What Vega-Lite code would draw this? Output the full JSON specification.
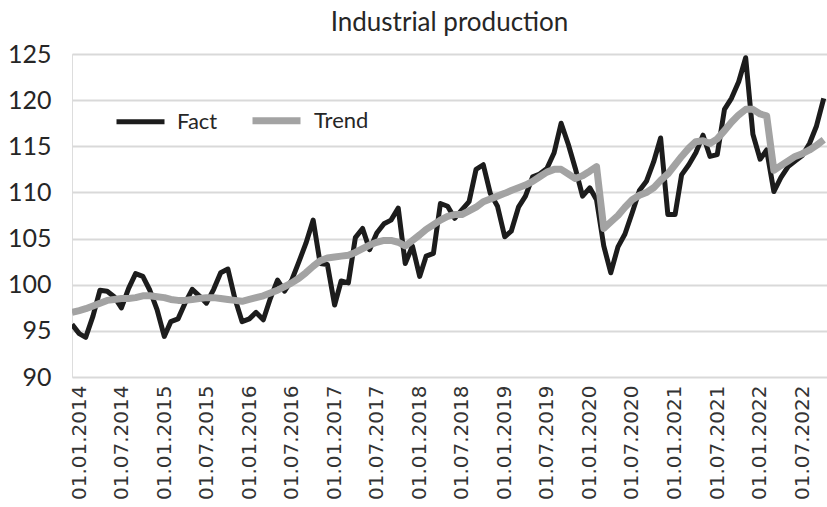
{
  "$schema": "https://vega.github.io/schema/vega-lite/v6.json",
  "autosize": {"type": "none"},
  "width": 755,
  "height": 323,
  "padding": {"left": 72, "top": 54, "right": 0, "bottom": 130},
  "background": "white",
  "title": {"text": "Industrial production", "font": "Lato", "fontSize": 26, "fontWeight": "normal", "color": "#262626", "anchor": "middle", "offset": 6},
  "data": {"values": [
    {"date": "2014-01-01", "Fact": 95.7, "Trend": 97.0},
    {"date": "2014-02-01", "Fact": 94.7, "Trend": 97.2},
    {"date": "2014-03-01", "Fact": 94.3, "Trend": 97.4},
    {"date": "2014-04-01", "Fact": 96.6, "Trend": 97.7},
    {"date": "2014-05-01", "Fact": 99.4, "Trend": 98.0},
    {"date": "2014-06-01", "Fact": 99.3, "Trend": 98.3},
    {"date": "2014-07-01", "Fact": 98.7, "Trend": 98.4},
    {"date": "2014-08-01", "Fact": 97.5, "Trend": 98.5},
    {"date": "2014-09-01", "Fact": 99.6, "Trend": 98.5},
    {"date": "2014-10-01", "Fact": 101.2, "Trend": 98.6},
    {"date": "2014-11-01", "Fact": 100.9, "Trend": 98.8},
    {"date": "2014-12-01", "Fact": 99.4, "Trend": 98.8},
    {"date": "2015-01-01", "Fact": 97.3, "Trend": 98.7},
    {"date": "2015-02-01", "Fact": 94.4, "Trend": 98.6},
    {"date": "2015-03-01", "Fact": 96.0, "Trend": 98.4},
    {"date": "2015-04-01", "Fact": 96.3, "Trend": 98.3},
    {"date": "2015-05-01", "Fact": 98.0, "Trend": 98.3},
    {"date": "2015-06-01", "Fact": 99.5, "Trend": 98.4},
    {"date": "2015-07-01", "Fact": 98.8, "Trend": 98.5},
    {"date": "2015-08-01", "Fact": 98.0, "Trend": 98.6},
    {"date": "2015-09-01", "Fact": 99.5, "Trend": 98.6},
    {"date": "2015-10-01", "Fact": 101.3, "Trend": 98.5},
    {"date": "2015-11-01", "Fact": 101.7, "Trend": 98.4},
    {"date": "2015-12-01", "Fact": 98.5, "Trend": 98.3},
    {"date": "2016-01-01", "Fact": 96.0, "Trend": 98.2},
    {"date": "2016-02-01", "Fact": 96.3, "Trend": 98.4},
    {"date": "2016-03-01", "Fact": 97.0, "Trend": 98.6},
    {"date": "2016-04-01", "Fact": 96.2, "Trend": 98.8},
    {"date": "2016-05-01", "Fact": 98.5, "Trend": 99.1},
    {"date": "2016-06-01", "Fact": 100.5, "Trend": 99.4},
    {"date": "2016-07-01", "Fact": 99.3, "Trend": 99.8},
    {"date": "2016-08-01", "Fact": 100.5, "Trend": 100.2},
    {"date": "2016-09-01", "Fact": 102.5, "Trend": 100.7},
    {"date": "2016-10-01", "Fact": 104.5, "Trend": 101.3},
    {"date": "2016-11-01", "Fact": 107.0, "Trend": 102.0},
    {"date": "2016-12-01", "Fact": 102.3, "Trend": 102.6},
    {"date": "2017-01-01", "Fact": 102.2, "Trend": 102.9},
    {"date": "2017-02-01", "Fact": 97.8, "Trend": 103.0},
    {"date": "2017-03-01", "Fact": 100.4, "Trend": 103.1},
    {"date": "2017-04-01", "Fact": 100.2, "Trend": 103.2},
    {"date": "2017-05-01", "Fact": 105.1, "Trend": 103.5},
    {"date": "2017-06-01", "Fact": 106.1, "Trend": 103.9},
    {"date": "2017-07-01", "Fact": 103.8, "Trend": 104.3},
    {"date": "2017-08-01", "Fact": 105.6, "Trend": 104.6},
    {"date": "2017-09-01", "Fact": 106.6, "Trend": 104.8},
    {"date": "2017-10-01", "Fact": 107.0, "Trend": 104.8},
    {"date": "2017-11-01", "Fact": 108.3, "Trend": 104.6},
    {"date": "2017-12-01", "Fact": 102.3, "Trend": 104.2},
    {"date": "2018-01-01", "Fact": 104.2, "Trend": 104.8},
    {"date": "2018-02-01", "Fact": 100.9, "Trend": 105.4},
    {"date": "2018-03-01", "Fact": 103.1, "Trend": 106.0},
    {"date": "2018-04-01", "Fact": 103.4, "Trend": 106.5},
    {"date": "2018-05-01", "Fact": 108.8, "Trend": 107.0},
    {"date": "2018-06-01", "Fact": 108.5, "Trend": 107.4},
    {"date": "2018-07-01", "Fact": 107.2, "Trend": 107.6},
    {"date": "2018-08-01", "Fact": 108.1, "Trend": 107.6},
    {"date": "2018-09-01", "Fact": 109.0, "Trend": 108.0},
    {"date": "2018-10-01", "Fact": 112.5, "Trend": 108.4},
    {"date": "2018-11-01", "Fact": 113.0, "Trend": 109.0},
    {"date": "2018-12-01", "Fact": 109.9, "Trend": 109.3},
    {"date": "2019-01-01", "Fact": 108.5, "Trend": 109.6},
    {"date": "2019-02-01", "Fact": 105.2, "Trend": 109.9},
    {"date": "2019-03-01", "Fact": 105.8, "Trend": 110.2},
    {"date": "2019-04-01", "Fact": 108.4, "Trend": 110.5},
    {"date": "2019-05-01", "Fact": 109.6, "Trend": 110.8},
    {"date": "2019-06-01", "Fact": 111.7, "Trend": 111.2},
    {"date": "2019-07-01", "Fact": 112.0, "Trend": 111.7},
    {"date": "2019-08-01", "Fact": 112.6, "Trend": 112.2},
    {"date": "2019-09-01", "Fact": 114.3, "Trend": 112.5},
    {"date": "2019-10-01", "Fact": 117.5, "Trend": 112.5},
    {"date": "2019-11-01", "Fact": 115.2, "Trend": 112.0},
    {"date": "2019-12-01", "Fact": 112.6, "Trend": 111.5},
    {"date": "2020-01-01", "Fact": 109.6, "Trend": 111.8},
    {"date": "2020-02-01", "Fact": 110.5, "Trend": 112.3},
    {"date": "2020-03-01", "Fact": 109.2, "Trend": 112.8},
    {"date": "2020-04-01", "Fact": 104.2, "Trend": 106.1},
    {"date": "2020-05-01", "Fact": 101.3, "Trend": 106.8},
    {"date": "2020-06-01", "Fact": 104.1, "Trend": 107.5},
    {"date": "2020-07-01", "Fact": 105.5, "Trend": 108.4},
    {"date": "2020-08-01", "Fact": 107.8, "Trend": 109.2},
    {"date": "2020-09-01", "Fact": 110.2, "Trend": 109.7},
    {"date": "2020-10-01", "Fact": 111.2, "Trend": 110.0},
    {"date": "2020-11-01", "Fact": 113.3, "Trend": 110.5},
    {"date": "2020-12-01", "Fact": 115.9, "Trend": 111.3},
    {"date": "2021-01-01", "Fact": 107.6, "Trend": 112.0},
    {"date": "2021-02-01", "Fact": 107.6, "Trend": 113.0},
    {"date": "2021-03-01", "Fact": 111.9, "Trend": 113.9},
    {"date": "2021-04-01", "Fact": 113.0, "Trend": 114.8},
    {"date": "2021-05-01", "Fact": 114.3, "Trend": 115.5},
    {"date": "2021-06-01", "Fact": 116.2, "Trend": 115.6},
    {"date": "2021-07-01", "Fact": 113.9, "Trend": 115.3},
    {"date": "2021-08-01", "Fact": 114.1, "Trend": 115.8},
    {"date": "2021-09-01", "Fact": 119.0, "Trend": 116.7},
    {"date": "2021-10-01", "Fact": 120.2, "Trend": 117.6},
    {"date": "2021-11-01", "Fact": 122.0, "Trend": 118.4},
    {"date": "2021-12-01", "Fact": 124.6, "Trend": 119.0},
    {"date": "2022-01-01", "Fact": 116.3, "Trend": 119.0},
    {"date": "2022-02-01", "Fact": 113.6, "Trend": 118.5},
    {"date": "2022-03-01", "Fact": 114.6, "Trend": 118.3},
    {"date": "2022-04-01", "Fact": 110.1, "Trend": 112.4},
    {"date": "2022-05-01", "Fact": 111.6, "Trend": 112.9},
    {"date": "2022-06-01", "Fact": 112.8, "Trend": 113.4},
    {"date": "2022-07-01", "Fact": 113.4, "Trend": 113.9},
    {"date": "2022-08-01", "Fact": 114.0, "Trend": 114.2},
    {"date": "2022-09-01", "Fact": 115.3, "Trend": 114.6},
    {"date": "2022-10-01", "Fact": 117.2, "Trend": 115.1},
    {"date": "2022-11-01", "Fact": 120.2, "Trend": 115.7}
  ]},
  "transform": [{"fold": ["Fact", "Trend"], "as": ["series", "value"]}],
  "mark": {"type": "line", "strokeJoin": "round", "strokeCap": "butt", "clip": true},
  "encoding": {
    "x": {
      "field": "date", "type": "temporal",
      "scale": {"type": "utc", "domain": ["2014-01-01", "2022-11-15"]},
      "axis": {
        "title": null,
        "labelExpr": "utcFormat(datum.value, '%d.%m.%Y')",
        "tickCount": {"interval": "month", "step": 6},
        "labelAngle": 270, "labelFontSize": 20, "labelFont": "DejaVu Sans", "labelColor": "#333333",
        "labelPadding": 8, "labelOffset": 7, "ticks": false, "domain": false, "grid": false,
        "labelOverlap": false, "labelFlush": false
      }
    },
    "y": {
      "field": "value", "type": "quantitative",
      "scale": {"domain": [90, 125], "zero": false, "nice": false},
      "axis": {
        "title": null, "values": [90, 95, 100, 105, 110, 115, 120, 125],
        "labelFontSize": 25, "labelFont": "Lato", "labelColor": "#262626", "labelPadding": 21,
        "ticks": false, "domain": false, "grid": true, "gridColor": "#d9d9d9", "gridWidth": 2
      }
    },
    "color": {
      "field": "series", "type": "nominal",
      "scale": {"domain": ["Fact", "Trend"], "range": ["#1c1c1c", "#a3a3a3"]},
      "legend": {
        "title": null, "orient": "none", "direction": "horizontal",
        "legendX": 42, "legendY": 39,
        "symbolType": "stroke", "symbolSize": 2304, "symbolStrokeWidth": 6,
        "labelFontSize": 22, "labelFont": "Lato", "labelColor": "#262626",
        "labelOffset": 10, "columnPadding": 20
      }
    },
    "strokeWidth": {
      "field": "series", "type": "nominal",
      "scale": {"domain": ["Fact", "Trend"], "range": [5, 7]},
      "legend": null
    }
  }
}
